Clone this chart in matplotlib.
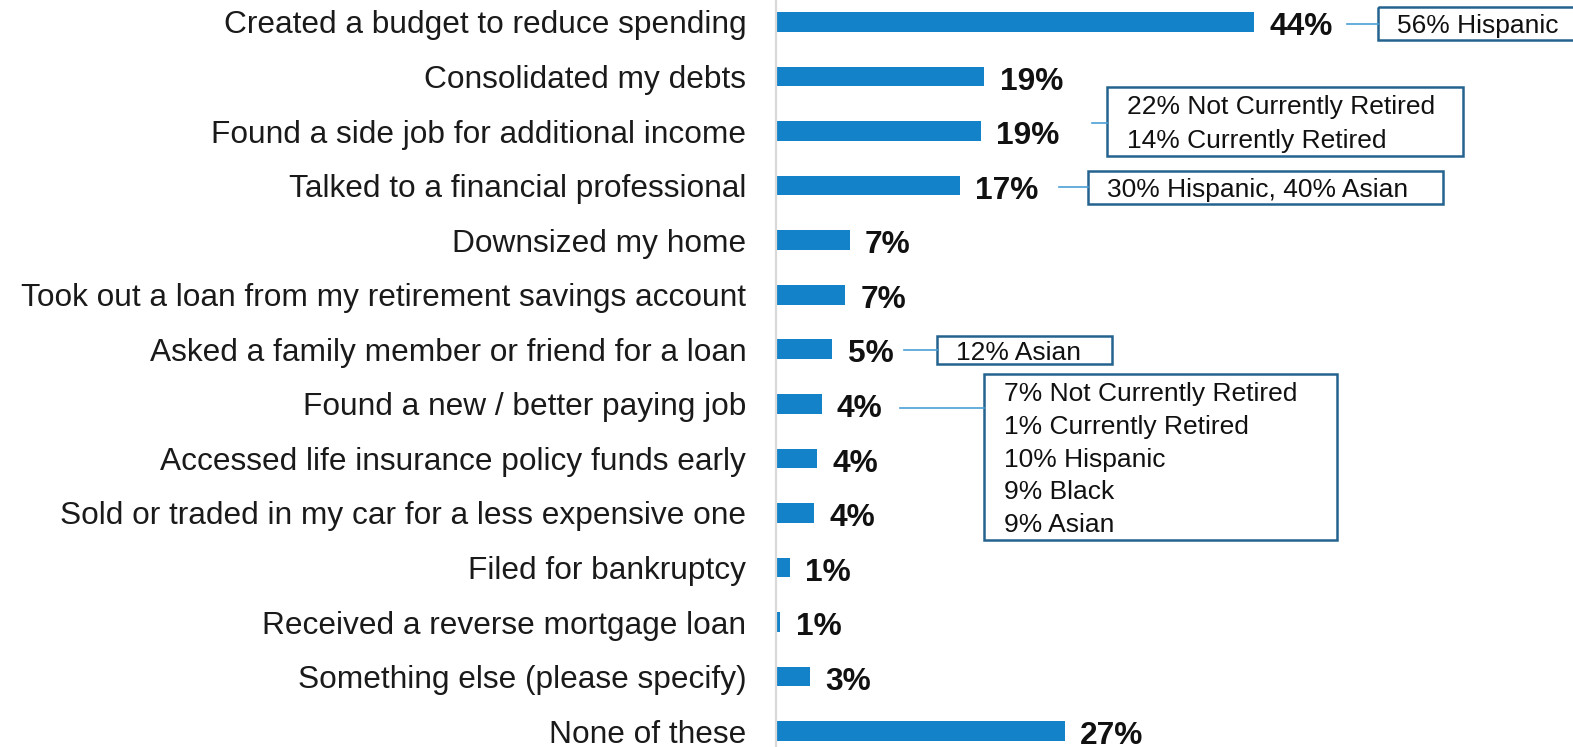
import numpy as np
import matplotlib
matplotlib.use("Agg")
import matplotlib.pyplot as plt
from matplotlib.patches import Rectangle

plt.rcParams['font.family'] = ['Liberation Sans', 'DejaVu Sans']

categories = ["Created a budget to reduce spending", "Consolidated my debts",
              "Found a side job for additional income", "Talked to a financial professional",
              "Downsized my home", "Took out a loan from my retirement savings account",
              "Asked a family member or friend for a loan", "Found a new / better paying job",
              "Accessed life insurance policy funds early",
              "Sold or traded in my car for a less expensive one", "Filed for bankruptcy",
              "Received a reverse mortgage loan", "Something else (please specify)", "None of these"]
values = [44.0, 19.2, 18.9, 16.9, 6.8, 6.4, 5.2, 4.2, 3.8, 3.5, 1.3, 0.4, 3.1, 26.6]
value_labels = ["44%", "19%", "19%", "17%", "7%", "7%", "5%", "4%", "4%", "4%",
                "1%", "1%", "3%", "27%"]

# call-out boxes: text lines, box (x0, x1, y0, y1), connector (x0, x1, y)
callouts = [
    (["56% Hispanic"], (55.4, 76.0, -0.27, 0.33), (52.6, 55.4, 0.04)),
    (["22% Not Currently Retired", "14% Currently Retired"], (30.5, 63.3, 1.19, 2.46), (29.1, 30.5, 1.85)),
    (["30% Hispanic, 40% Asian"], (28.7, 61.4, 2.73, 3.34), (26.1, 28.7, 3.03)),
    (["12% Asian"], (14.8, 30.9, 5.76, 6.27), (11.8, 14.8, 6.01)),
    (["7% Not Currently Retired", "1% Currently Retired", "10% Hispanic", "9% Black", "9% Asian"],
     (19.2, 51.7, 6.45, 9.50), (11.4, 19.2, 7.08)),
]

bar_color = "#1482c8"
box_color = "#24628f"
line_color = "#4a9fd8"

fig = plt.figure(figsize=(15.73, 7.47), dpi=100)
ax = fig.add_axes([776 / 1573, 0, 1 - 776 / 1573, 1])

y = np.arange(len(categories))
ax.barh(y, values, height=0.36, color=bar_color)
ax.set_ylim(13.29, -0.403)
ax.set_xlim(0, 73.4)

for yi, v, lab in zip(y, values, value_labels):
    ax.annotate(lab, (v, yi + 0.03), xytext=(11, 0), textcoords="offset points",
                va="center_baseline", ha="left", fontsize=22.8, fontweight="bold",
                color="#111111")

ax.set_yticks(y)
ax.set_yticklabels(categories, fontsize=22.8, color="#1a1a1a")
ax.tick_params(axis="y", length=0, pad=21.5)
ax.set_xticks([])
for s in ["top", "right", "bottom"]:
    ax.spines[s].set_visible(False)
ax.spines["left"].set_color("#d9d9d9")
ax.spines["left"].set_linewidth(1.6)

for lines, (bx0, bx1, by0, by1), (lx0, lx1, ly) in callouts:
    ax.plot([lx0, lx1], [ly, ly], color=line_color, lw=1.2, clip_on=False)
    ax.add_patch(Rectangle((bx0, by0), bx1 - bx0, by1 - by0, fill=False,
                           edgecolor=box_color, lw=1.8, clip_on=False))
    n = len(lines)
    step = (by1 - by0) / (n + 0.05) if n > 1 else 0
    start = (by0 + by1) / 2 - step * (n - 1) / 2
    for i, t in enumerate(lines):
        ax.text(bx0 + 1.8, start + i * step, t, fontsize=19, va="center_baseline",
                ha="left", color="#111111")

fig.savefig("out.png", dpi=100)
